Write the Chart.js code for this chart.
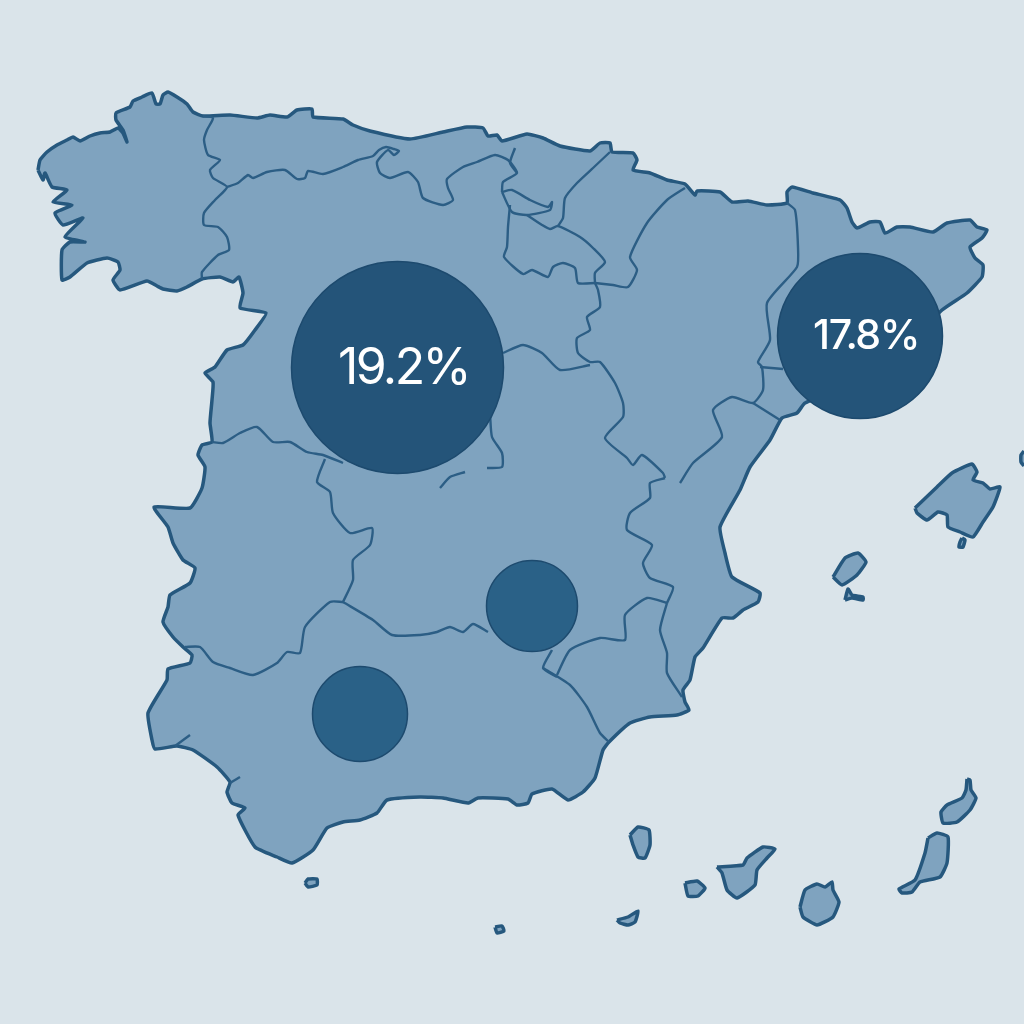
<!DOCTYPE html>
<html lang="es">
<head>
<meta charset="utf-8">
<title>España</title>
<script src="https://cdn.jsdelivr.net/npm/chart.js@4"></script>
<style>
  html, body { margin: 0; padding: 0; background: #dae4ea; }
  canvas { display: block; }
</style>
</head>
<body>
<canvas id="map" width="1024" height="1024"></canvas>
<script>
// Bubble values
const bubbleX = [397.5, 860, 532, 360];
const bubbleY = [367.5, 336, 606, 714];
const bubbleSize = [106, 82.5, 45.5, 47.5];
const bubbleLabels = ["19.2%", "17.8%", "", ""];
const bubbleColors = ["#245479", "#245479", "#2a6187", "#2a6187"];

// Mainland coast, clockwise from the Galician west coast
const coast = [[38,170],[40,160],[47,152],[57,145],[67,140],[73,137],[80,141],[90,136],[100,133],[110,132],[118,128],[123,133],[127,142],[123,130],[116,120],[116,113],[130,107],[133,101],[142,97],[152,93],[156,104],[160,104],[163,95],[168,92],[177,97],[187,104],[193,112],[203,116],[230,115],[257,118],[270,115],[287,117],[297,110],[312,109],[313,117],[343,119],[353,125],[370,131],[410,139],[443,132],[467,127],[483,128],[488,136],[497,135],[502,141],[527,134],[543,138],[560,146],[590,151],[600,143],[610,143],[612,152],[633,153],[637,160],[633,170],[650,173],[667,180],[685,184],[695,195],[697,191],[720,192],[732,202],[748,201],[767,205],[787,203],[787,192],[792,187],[813,193],[840,200],[847,208],[852,222],[857,228],[870,222],[880,222],[885,233],[897,227],[910,227],[933,232],[947,223],[970,220],[977,227],[987,230],[982,238],[970,247],[975,258],[983,265],[982,277],[967,293],[942,310],[880,370],[805,403],[797,413],[782,418],[770,440],[750,467],[740,490],[720,527],[725,553],[732,577],[760,593],[758,602],[743,610],[733,618],[722,618],[703,648],[695,657],[690,680],[683,690],[685,702],[689,710],[677,715],[650,717],[630,723],[609,742],[603,750],[595,778],[583,792],[568,800],[552,789],[532,794],[528,803],[517,805],[508,799],[478,798],[468,803],[443,798],[420,797],[387,800],[377,813],[360,820],[343,822],[327,828],[313,850],[292,863],[277,857],[255,847],[238,815],[245,808],[232,803],[227,792],[230,782],[217,767],[193,750],[177,746],[155,749],[152,740],[148,713],[167,680],[168,669],[190,663],[192,655],[183,647],[173,637],[163,622],[168,607],[170,595],[190,583],[195,568],[183,560],[173,543],[168,527],[154,507],[190,508],[202,488],[205,467],[198,455],[202,445],[212,442],[210,423],[212,400],[213,382],[205,373],[215,367],[227,350],[243,345],[255,330],[266,313],[240,308],[243,293],[239,277],[233,282],[220,277],[202,279],[187,287],[177,291],[163,289],[157,286],[147,281],[120,290],[113,280],[120,270],[118,262],[107,258],[87,263],[70,277],[62,280],[62,250],[70,242],[85,242],[65,237],[83,218],[63,225],[55,213],[72,205],[53,202],[67,190],[52,187],[45,173],[43,180],[38,170]];

// Islands and enclaves
const mallorca = [[915,508],[937,487],[952,473],[972,464],[977,472],[973,480],[983,483],[990,489],[1000,487],[993,507],[983,522],[973,537],[960,532],[948,527],[947,515],[938,512],[927,520],[917,513],[915,508]];
const menorca = [[1024,451],[1021,455],[1021,462],[1024,466]];
const cabrera = [[962,538],[965,540],[963,547],[959,547],[960,542],[962,538]];
const ibiza = [[833,577],[845,558],[858,553],[866,562],[857,575],[842,585],[833,577]];
const formentera = [[845,600],[848,589],[852,595],[863,597],[863,600],[852,598],[845,600]];
const lanzarote = [[967,779],[970,780],[971,790],[976,798],[970,810],[957,822],[943,823],[941,812],[947,805],[962,798],[966,790],[967,779]];
const fuerteventura = [[928,838],[937,833],[948,837],[947,863],[940,877],[920,882],[912,892],[902,893],[899,889],[915,880],[925,853],[928,838]];
const granCanaria = [[800,907],[805,890],[817,884],[825,887],[832,882],[833,890],[839,902],[833,917],[817,925],[803,917],[800,907]];
const tenerife = [[717,867],[743,865],[747,858],[763,847],[775,849],[767,858],[757,870],[755,885],[737,898],[727,890],[722,873],[717,867]];
const laGomera = [[685,883],[697,881],[705,888],[698,896],[688,896],[685,883]];
const laPalma = [[630,835],[638,827],[649,830],[650,845],[645,858],[638,857],[633,845],[630,835]];
const elHierro = [[617,920],[628,917],[638,911],[635,922],[628,925],[620,923],[617,920]];
const ceuta = [[305,883],[308,879],[317,879],[317,885],[308,887],[305,883]];
const melilla = [[495,927],[502,926],[504,931],[497,933],[495,927]];

// Inner region borders
const borderGaliciaEast = [[203,116],[213,118],[207,130],[204,140],[208,155],[220,160],[210,170],[213,178],[227,187],[215,200],[204,213],[204,225],[218,227],[227,237],[229,250],[218,255],[202,272],[202,279]];
const borderAsturiasSouth = [[227,187],[238,183],[248,175],[253,178],[267,172],[285,170],[297,179],[305,178],[308,171],[323,174],[343,167],[358,160],[373,156],[379,150],[386,147],[394,149],[399,151],[394,155],[388,150],[377,162],[380,173],[390,178],[408,172],[418,182],[423,198],[443,205],[453,200],[448,188],[447,179],[463,167],[477,162],[495,155],[508,160],[517,173],[503,182],[502,192]];
const borderCantabriaBasque = [[515,148],[510,163],[517,173]];
const borderBasqueNavarra = [[610,152],[593,168],[577,183],[565,198],[563,218],[558,226]];
const borderBasqueSouth = [[502,192],[512,190],[530,200],[548,207],[552,202],[550,210],[527,215],[512,212],[502,192]];
const borderRiojaSouth = [[510,205],[508,227],[507,247],[504,257],[523,274],[532,270],[548,277],[553,267],[563,263],[575,268],[578,283],[595,283]];
const borderRiojaNorth = [[527,215],[542,225],[550,229],[558,226],[580,237],[593,248],[605,262],[595,273],[595,283]];
const borderNavarraAragon = [[685,188],[667,200],[647,223],[630,257],[637,270],[628,287],[613,285],[595,283]];
const borderAragonWest = [[595,283],[598,290],[600,307],[587,317],[590,330],[577,338],[578,353],[590,362],[600,362],[615,383],[623,403],[623,417],[605,438],[627,458],[633,465],[642,455],[663,473],[665,478]];
const borderAragonEast = [[680,483],[693,463],[722,437],[713,410],[732,397],[753,403],[763,390],[762,367],[758,362],[770,340],[767,303],[797,267],[798,247],[795,210],[787,203]];
const borderCataloniaValencia = [[753,403],[780,420]];
const borderCataloniaInner = [[760,367],[783,369]];
const borderCastileMadrid = [[503,353],[523,345],[542,353],[560,370],[590,365]];
const borderMadridEast = [[490,413],[492,437],[502,453],[502,467],[487,468]];
const borderMadridSouth = [[465,472],[450,477],[440,488]];
const borderExtremaduraNorth = [[212,442],[223,443],[240,433],[257,427],[273,442],[290,442],[307,452],[323,455],[343,463]];
const borderExtremaduraEast = [[325,459],[317,482],[330,492],[333,513],[350,533],[372,528],[370,545],[353,560],[353,580],[343,602]];
const borderExtremaduraSouth = [[343,602],[330,602],[305,627],[300,653],[287,652],[277,663],[253,675],[230,668],[213,662],[200,647],[185,647]];
const borderLaManchaSouth = [[343,602],[373,620],[392,635],[420,635],[437,632],[450,627],[463,632],[473,624],[488,632]];
const borderJaen = [[552,650],[543,668],[557,677]];
const borderMurciaNorth = [[557,675],[570,650],[600,638],[625,640],[625,615],[647,598],[667,603]];
const borderMurciaWest = [[543,668],[570,685],[587,707],[600,733],[609,742]];
const borderMurciaEast = [[667,603],[660,630],[667,653],[667,673],[682,697]];
const borderLaManchaEast = [[665,478],[650,483],[650,498],[630,513],[627,530],[652,545],[643,563],[650,578],[673,587],[667,603]];
const borderHuelva = [[175,746],[190,735]];
const borderCadiz = [[230,783],[240,777]];

const landShapes = [coast, mallorca, menorca, cabrera, ibiza, formentera, lanzarote, fuerteventura, granCanaria, tenerife, laGomera, laPalma, elHierro, ceuta, melilla];
const innerBorders = [borderGaliciaEast, borderAsturiasSouth, borderCantabriaBasque, borderBasqueNavarra, borderBasqueSouth, borderRiojaSouth, borderRiojaNorth, borderNavarraAragon, borderAragonWest, borderAragonEast, borderCataloniaValencia, borderCataloniaInner, borderCastileMadrid, borderMadridEast, borderMadridSouth, borderExtremaduraNorth, borderExtremaduraEast, borderExtremaduraSouth, borderLaManchaSouth, borderJaen, borderMurciaNorth, borderMurciaWest, borderMurciaEast, borderLaManchaEast, borderHuelva, borderCadiz];

const toPoints = list => list.map(p => ({ x: p[0], y: p[1] }));

const datasets = [];

// Bubbles on top
datasets.push({
  type: "bubble",
  order: 0,
  data: bubbleX.map((x, i) => ({ x: x, y: bubbleY[i], r: bubbleSize[i] })),
  backgroundColor: bubbleColors,
  borderColor: "#1d4a6e",
  borderWidth: 1.5
});

innerBorders.forEach(line => {
  datasets.push({
    type: "scatter",
    showLine: true,
    order: 1,
    data: toPoints(line),
    borderColor: "#2c5e85",
    borderWidth: 2.4,
    tension: 0.2,
    pointRadius: 0,
    fill: false
  });
});

landShapes.forEach(shape => {
  datasets.push({
    type: "scatter",
    showLine: true,
    order: 2,
    data: toPoints(shape),
    borderColor: "#26587e",
    backgroundColor: "#7fa3bf",
    borderWidth: 3.5,
    borderJoinStyle: "round",
    tension: 0.15,
    pointRadius: 0,
    fill: "shape"
  });
});

// Percent labels in the two big bubbles
const labelFonts = ["400 50px Inter", "500 41px Inter"];
const labelSpacing = ["-2.6px", "-1.5px"];
const labelShiftX = [6, 6];

const bubbleText = {
  id: "bubbleText",
  afterDatasetsDraw(chart) {
    const meta = chart.getDatasetMeta(0);
    const ctx = chart.ctx;
    ctx.save();
    ctx.fillStyle = "#ffffff";
    ctx.textAlign = "center";
    ctx.textBaseline = "middle";
    meta.data.forEach((el, i) => {
      if (!bubbleLabels[i]) return;
      ctx.font = labelFonts[i];
      ctx.letterSpacing = labelSpacing[i];
      ctx.fillText(bubbleLabels[i], el.x + labelShiftX[i], el.y + 1);
    });
    ctx.restore();
  }
};

new Chart(document.getElementById("map"), {
  data: { datasets: datasets },
  plugins: [bubbleText],
  options: {
    responsive: false,
    animation: false,
    layout: { padding: 0, autoPadding: false },
    scales: {
      x: { type: "linear", min: 0, max: 1024, display: false },
      y: { type: "linear", min: 0, max: 1024, reverse: true, display: false }
    },
    plugins: {
      legend: { display: false },
      tooltip: { enabled: false }
    }
  }
});
</script>
</body>
</html>
